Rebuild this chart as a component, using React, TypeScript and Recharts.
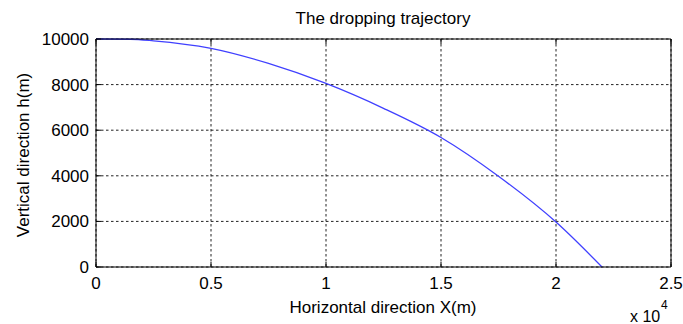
import React from "react";
import {
  LineChart,
  Line,
  XAxis,
  YAxis,
  CartesianGrid,
} from "recharts";

// horizontal distance X (m) and height h (m)
const distance = [0, 1500, 2500, 5000, 7500, 10000, 12500, 15000, 17500, 20000, 22000];
const height = [10000, 9990, 9920, 9590, 8930, 8050, 6960, 5680, 3980, 1970, 0];

const xTicks = [0, 5000, 10000, 15000, 20000, 25000];
const yTicks = [0, 2000, 4000, 6000, 8000, 10000];

const data = distance.map((x, i) => ({ x, h: height[i] }));

const FONT = "'Liberation Sans', Arial, sans-serif";
const tickStyle = { fontSize: 17, fill: "#000", fontFamily: FONT };

export default function App() {
  return (
    <div style={{ position: "absolute", left: 0, top: 0, width: 683, height: 324, background: "#fff" }}>
      <LineChart
        width={683}
        height={324}
        data={data}
        margin={{ top: 34, right: 7, bottom: 27, left: 36 }}
      >
        <CartesianGrid stroke="#222" strokeDasharray="2.5 2.5" />
        <XAxis
          dataKey="x"
          type="number"
          domain={[0, 25000]}
          ticks={xTicks}
          height={30}
          stroke="#000"
          tickSize={-5}
          tickMargin={15}
          tick={tickStyle}
          tickFormatter={(v: number) => String(v / 10000)}
        />
        <XAxis
          xAxisId="top"
          orientation="top"
          dataKey="x"
          type="number"
          domain={[0, 25000]}
          ticks={xTicks}
          height={5}
          stroke="#000"
          tickSize={-5}
          tickFormatter={() => ""}
        />
        <YAxis
          domain={[0, 10000]}
          ticks={yTicks}
          width={60}
          stroke="#000"
          tickSize={-5}
          tickMargin={12}
          tick={tickStyle}
        />
        <YAxis
          yAxisId="right"
          orientation="right"
          domain={[0, 10000]}
          ticks={yTicks}
          width={5}
          stroke="#000"
          tickSize={-5}
          tickFormatter={() => ""}
        />
        <Line
          type="monotone"
          dataKey="h"
          stroke="#4040ff"
          strokeWidth={1.3}
          dot={false}
          isAnimationActive={false}
        />
      </LineChart>
      <svg
        width={683}
        height={324}
        style={{ position: "absolute", left: 0, top: 0, pointerEvents: "none" }}
        fontFamily={FONT}
      >
        <text x={383} y={24} textAnchor="middle" fontSize={17} fill="#000">
          The dropping trajectory
        </text>
        <text x={383} y={313} textAnchor="middle" fontSize={17} fill="#000">
          Horizontal direction X(m)
        </text>
        <text
          x={29}
          y={155}
          textAnchor="middle"
          fontSize={17}
          fill="#000"
          transform="rotate(-90 29 155)"
        >
          Vertical direction h(m)
        </text>
        <text x={630} y={322} fontSize={16} fill="#000">
          x 10
        </text>
        <text x={661} y={309} fontSize={12} fill="#000">
          4
        </text>
      </svg>
    </div>
  );
}
